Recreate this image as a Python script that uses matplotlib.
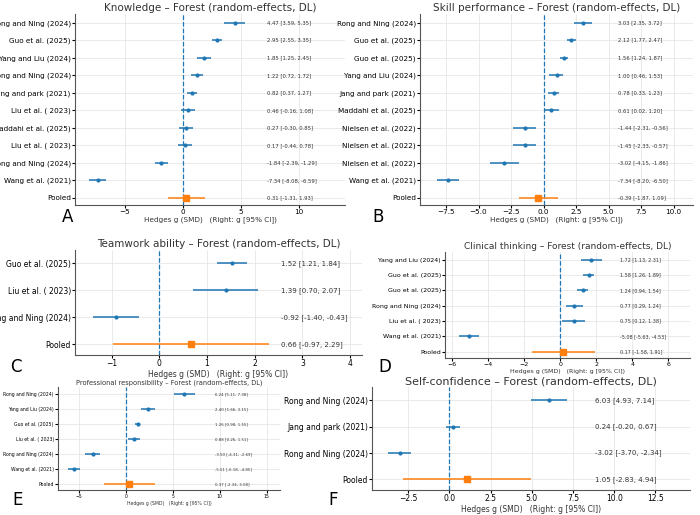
import matplotlib
matplotlib.use("Agg")
import matplotlib.pyplot as plt

W, H = 700, 515

knowledge_labels = ["Rong and Ning (2024)", "Guo et al. (2025)", "Yang and Liu (2024)", "Rong and Ning (2024)",
                    "Jang and park (2021)", "Liu et al. ( 2023)", "Maddahi et al. (2025)", "Liu et al. ( 2023)",
                    "Rong and Ning (2024)", "Wang et al. (2021)", "Pooled"]
knowledge_g = [4.47, 2.95, 1.85, 1.22, 0.82, 0.46, 0.27, 0.17, -1.84, -7.34, 0.31]
knowledge_lo = [3.59, 2.55, 1.25, 0.72, 0.37, -0.16, -0.30, -0.44, -2.39, -8.08, -1.31]
knowledge_hi = [5.35, 3.35, 2.45, 1.72, 1.27, 1.08, 0.85, 0.78, -1.29, -6.59, 1.93]

skill_labels = ["Rong and Ning (2024)", "Guo et al. (2025)", "Guo et al. (2025)", "Yang and Liu (2024)",
                "Jang and park (2021)", "Maddahi et al. (2025)", "Nielsen et al. (2022)", "Nielsen et al. (2022)",
                "Nielsen et al. (2022)", "Wang et al. (2021)", "Pooled"]
skill_g = [3.03, 2.12, 1.56, 1.00, 0.78, 0.61, -1.44, -1.45, -3.02, -7.34, -0.39]
skill_lo = [2.35, 1.77, 1.24, 0.46, 0.33, 0.02, -2.31, -2.33, -4.15, -8.20, -1.87]
skill_hi = [3.72, 2.47, 1.87, 1.53, 1.23, 1.20, -0.56, -0.57, -1.86, -6.50, 1.09]

team_labels = ["Guo et al. (2025)", "Liu et al. ( 2023)", "Rong and Ning (2024)", "Pooled"]
team_g = [1.52, 1.39, -0.92, 0.66]
team_lo = [1.21, 0.70, -1.40, -0.97]
team_hi = [1.84, 2.07, -0.43, 2.29]

clin_labels = ["Yang and Liu (2024)", "Guo et al. (2025)", "Guo et al. (2025)", "Rong and Ning (2024)",
               "Liu et al. ( 2023)", "Wang et al. (2021)", "Pooled"]
clin_g = [1.72, 1.58, 1.24, 0.77, 0.75, -5.08, 0.17]
clin_lo = [1.13, 1.26, 0.94, 0.29, 0.12, -5.63, -1.58]
clin_hi = [2.31, 1.89, 1.54, 1.24, 1.38, -4.53, 1.91]

prof_labels = ["Rong and Ning (2024)", "Yang and Liu (2024)", "Guo et al. (2025)", "Liu et al. ( 2023)",
               "Rong and Ning (2024)", "Wang et al. (2021)", "Pooled"]
prof_g = [6.24, 2.40, 1.26, 0.88, -3.50, -5.51, 0.37]
prof_lo = [5.11, 1.66, 0.98, 0.26, -4.31, -6.18, -2.34]
prof_hi = [7.38, 3.15, 1.55, 1.51, -2.69, -4.85, 3.08]

conf_labels = ["Rong and Ning (2024)", "Jang and park (2021)", "Rong and Ning (2024)", "Pooled"]
conf_g = [6.03, 0.24, -3.02, 1.05]
conf_lo = [4.93, -0.20, -3.70, -2.83]
conf_hi = [7.14, 0.67, -2.34, 4.94]

panels = [
    dict(title="Knowledge – Forest (random-effects, DL)", labels=knowledge_labels, g=knowledge_g, lo=knowledge_lo, hi=knowledge_hi,
         box=(75, 14, 345, 205), xlim=(-9.3, 14), textx=7.3, letter="A", lpos=(62, 222), fs=5.2, tfs=7.5, lfs=3.8),
    dict(title="Skill performance – Forest (random-effects, DL)", labels=skill_labels, g=skill_g, lo=skill_lo, hi=skill_hi,
         box=(420, 14, 693, 205), xlim=(-9.5, 11.5), textx=5.7, letter="B", lpos=(372, 222), fs=5.2, tfs=7.5, lfs=3.8),
    dict(title="Teamwork ability – Forest (random-effects, DL)", labels=team_labels, g=team_g, lo=team_lo, hi=team_hi,
         box=(75, 250, 362, 355), xlim=(-1.77, 4.25), textx=2.55, letter="C", lpos=(10, 372), fs=5.5, tfs=7.5, lfs=5),
    dict(title="Clinical thinking – Forest (random-effects, DL)", labels=clin_labels, g=clin_g, lo=clin_lo, hi=clin_hi,
         box=(445, 252, 690, 358), xlim=(-6.4, 7.2), textx=3.3, letter="D", lpos=(378, 372), fs=4.5, tfs=6.5, lfs=3.5),
    dict(title="Professional responsibility – Forest (random-effects, DL)", labels=prof_labels, g=prof_g, lo=prof_lo, hi=prof_hi,
         box=(58, 387, 280, 490), xlim=(-7.2, 16.4), textx=9.5, letter="E", lpos=(12, 505), fs=3.3, tfs=4.8, lfs=2.8),
    dict(title="Self-confidence – Forest (random-effects, DL)", labels=conf_labels, g=conf_g, lo=conf_lo, hi=conf_hi,
         box=(372, 387, 690, 490), xlim=(-4.7, 14.6), textx=8.85, letter="F", lpos=(328, 505), fs=5.5, tfs=8, lfs=5),
]

fig = plt.figure(figsize=(W / 100, H / 100), dpi=100)
blue = "#1f77b4"
orange = "#ff7f0e"

for p in panels:
    x0, y0, x1, y1 = p["box"]
    ax = fig.add_axes([x0 / W, 1 - y1 / H, (x1 - x0) / W, (y1 - y0) / H])
    n = len(p["labels"])
    ys = list(range(n))
    for i in range(n):
        g, lo, hi = p["g"][i], p["lo"][i], p["hi"][i]
        pooled = p["labels"][i] == "Pooled"
        c = orange if pooled else blue
        ax.errorbar([g], [i], xerr=[[g - lo], [hi - g]], fmt="s" if pooled else "o",
                    color=c, ms=4 if pooled else 2, lw=1.1, capsize=0, zorder=3)
        ax.text(p["textx"], i, f"{g:.2f} [{lo:.2f}, {hi:.2f}]", va="center", ha="left",
                fontsize=p["lfs"], color="#333333")
    ax.axvline(0, ls="--", color=blue, lw=0.9, zorder=2)
    ax.set_yticks(ys)
    ax.set_yticklabels(p["labels"], fontsize=p["fs"])
    ax.set_ylim(n - 0.6, -0.5)
    ax.set_xlim(*p["xlim"])
    ax.tick_params(axis="x", labelsize=p["fs"], length=2, pad=1)
    ax.tick_params(axis="y", length=2, pad=1)
    ax.grid(True, color="#e6e6e6", lw=0.6)
    ax.set_axisbelow(True)
    for s in ["top", "right"]:
        ax.spines[s].set_visible(False)
    for s in ["left", "bottom"]:
        ax.spines[s].set_color("#555555")
    ax.set_title(p["title"], fontsize=p["tfs"], pad=2, color="#333333")
    ax.set_xlabel("Hedges g (SMD)   (Right: g [95% CI])", fontsize=p["fs"], labelpad=1, color="#333333")
    fig.text(p["lpos"][0] / W, 1 - p["lpos"][1] / H, p["letter"], fontsize=12)

fig.savefig("out.png", dpi=100)
